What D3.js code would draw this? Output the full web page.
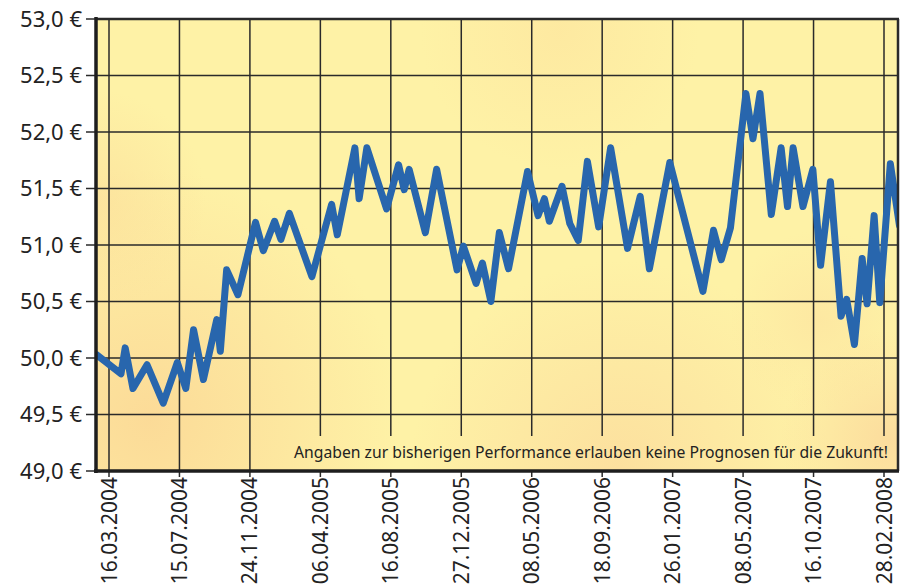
<!DOCTYPE html>
<html>
<head>
<meta charset="utf-8">
<script src="https://cdn.jsdelivr.net/npm/d3@7"></script>
<style>
  body { margin: 0; background: #fff; }
  text { font-family: "Noto Sans", sans-serif; fill: #222; }
</style>
</head>
<body>
<div class="chart"></div>
<script>
var svgWidth = 902;
var svgHeight = 586;

// x tick labels (one per vertical gridline)
var dateLabels = ["16.03.2004", "15.07.2004", "24.11.2004", "06.04.2005", "16.08.2005", "27.12.2005",
    "08.05.2006", "18.09.2006", "26.01.2007", "08.05.2007", "16.10.2007", "28.02.2008"];
var priceTicks = [49.0, 49.5, 50.0, 50.5, 51.0, 51.5, 52.0, 52.5, 53.0];

// position of each point, measured in label intervals (0 = 16.03.2004, 11 = 28.02.2008)
var pos = [-0.18, 0.17, 0.23, 0.34, 0.54, 0.77, 0.97, 1.09, 1.20, 1.34, 1.53, 1.58, 1.67, 1.83,
    2.08, 2.19, 2.35, 2.44, 2.56, 2.88, 3.16, 3.24, 3.49, 3.55, 3.66, 3.94, 4.11, 4.19, 4.26,
    4.49, 4.65, 4.94, 5.03, 5.21, 5.30, 5.42, 5.54, 5.67, 5.94, 6.09, 6.18, 6.25, 6.43, 6.54,
    6.66, 6.79, 6.95, 7.12, 7.36, 7.54, 7.67, 7.96, 8.43, 8.58, 8.69, 8.82, 9.04, 9.14, 9.24,
    9.40, 9.54, 9.63, 9.71, 9.85, 9.99, 10.10, 10.24, 10.39, 10.47, 10.58, 10.69, 10.76,
    10.86, 10.94, 11.09, 11.22];
var price = [50.03, 49.86, 50.09, 49.73, 49.94, 49.60, 49.96, 49.73, 50.25, 49.81, 50.34, 50.06,
    50.78, 50.56, 51.20, 50.95, 51.21, 51.05, 51.28, 50.72, 51.36, 51.09, 51.86, 51.41, 51.86,
    51.32, 51.71, 51.49, 51.67, 51.11, 51.67, 50.78, 50.99, 50.66, 50.84, 50.50, 51.11, 50.79,
    51.65, 51.26, 51.41, 51.21, 51.52, 51.19, 51.04, 51.74, 51.16, 51.86, 50.97, 51.43, 50.79,
    51.73, 50.59, 51.13, 50.87, 51.15, 52.34, 51.94, 52.34, 51.27, 51.86, 51.34, 51.86, 51.34,
    51.67, 50.82, 51.56, 50.37, 50.52, 50.12, 50.88, 50.48, 51.26, 50.49, 51.72, 51.17];

var note = "Angaben zur bisherigen Performance erlauben keine Prognosen für die Zukunft!";

var plot = { left: 96, right: 898, top: 19, bottom: 471 };

var svg = d3.select(".chart")
    .append("svg")
    .attr("width", svgWidth)
    .attr("height", svgHeight);

var xScale = d3.scaleLinear().domain([0, dateLabels.length - 1]).range([109, 884]);
var yScale = d3.scaleLinear().domain([49, 53]).range([plot.bottom, plot.top]);

// background: yellow with soft orange blotches
var defs = svg.append("defs");
var blobs = [
    { id: "b1", cx: 150, cy: 420, r: 250, c: "#fbd594", o: 0.8 },
    { id: "b2", cx: 96, cy: 200, r: 110, c: "#fbda98", o: 0.55 },
    { id: "b3", cx: 620, cy: 470, r: 210, c: "#fbd69a", o: 0.65 },
    { id: "b4", cx: 890, cy: 440, r: 110, c: "#fbd59a", o: 0.75 },
    { id: "b5", cx: 560, cy: 30, r: 140, c: "#fde29c", o: 0.55 },
    { id: "b6", cx: 820, cy: 320, r: 90, c: "#fcdc9c", o: 0.45 }
];
blobs.forEach(function(b) {
    var g = defs.append("radialGradient").attr("id", b.id)
        .attr("gradientUnits", "userSpaceOnUse")
        .attr("cx", b.cx).attr("cy", b.cy).attr("r", b.r);
    g.append("stop").attr("offset", "0%").attr("stop-color", b.c).attr("stop-opacity", b.o);
    g.append("stop").attr("offset", "100%").attr("stop-color", b.c).attr("stop-opacity", 0);
});
defs.append("clipPath").attr("id", "plotclip").append("rect")
    .attr("x", plot.left).attr("y", plot.top)
    .attr("width", plot.right - plot.left).attr("height", plot.bottom - plot.top);

function paintBackground(sel, x, y, w, h) {
    sel.append("rect").attr("x", x).attr("y", y).attr("width", w).attr("height", h)
        .attr("fill", "#fef2a6");
    blobs.forEach(function(b) {
        sel.append("rect").attr("x", x).attr("y", y).attr("width", w).attr("height", h)
            .attr("fill", "url(#" + b.id + ")");
    });
}

var bg = svg.append("g");
paintBackground(bg, plot.left, plot.top, plot.right - plot.left, plot.bottom - plot.top);

// gridlines
var grid = svg.append("g").attr("stroke", "#2a2a2a").attr("stroke-width", 1.5);
grid.selectAll(".hgrid")
    .data(priceTicks)
    .enter().append("line")
    .attr("x1", plot.left - 10).attr("x2", plot.right)
    .attr("y1", function(d) { return yScale(d); })
    .attr("y2", function(d) { return yScale(d); });
grid.selectAll(".vgrid")
    .data(dateLabels)
    .enter().append("line")
    .attr("x1", function(d, i) { return xScale(i); })
    .attr("x2", function(d, i) { return xScale(i); })
    .attr("y1", plot.top).attr("y2", plot.bottom + 6);

// strip for the disclaimer covers the gridlines
var strip = svg.append("g");
paintBackground(strip, 290, 436, plot.right - 290, plot.bottom - 436);

svg.append("text")
    .attr("x", 888)
    .attr("y", 458)
    .attr("text-anchor", "end")
    .style("font-size", "15.5px")
    .attr("textLength", 594)
    .attr("lengthAdjust", "spacingAndGlyphs")
    .text(note);

// price line
var line = d3.line()
    .x(function(d, i) { return xScale(pos[i]); })
    .y(function(d) { return yScale(d); });

svg.append("path")
    .datum(price)
    .attr("clip-path", "url(#plotclip)")
    .attr("d", line)
    .attr("fill", "none")
    .attr("stroke", "#2866ad")
    .attr("stroke-width", 7)
    .attr("stroke-linejoin", "round")
    .attr("stroke-linecap", "round");

// frame
svg.append("line").attr("x1", plot.left).attr("x2", plot.right + 1)
    .attr("y1", plot.top).attr("y2", plot.top)
    .attr("stroke", "#2a2a2a").attr("stroke-width", 2.5);
svg.append("line").attr("x1", plot.right).attr("x2", plot.right)
    .attr("y1", plot.top).attr("y2", plot.bottom)
    .attr("stroke", "#2a2a2a").attr("stroke-width", 2.5);
svg.append("line").attr("x1", plot.left).attr("x2", plot.left)
    .attr("y1", plot.top - 2).attr("y2", plot.bottom + 2)
    .attr("stroke", "#1e1e1e").attr("stroke-width", 3.5);
svg.append("line").attr("x1", plot.left - 2).attr("x2", plot.right + 1)
    .attr("y1", plot.bottom).attr("y2", plot.bottom)
    .attr("stroke", "#1e1e1e").attr("stroke-width", 3.5);

// y labels
var fmt = d3.format(".1f");
svg.selectAll(".ylabel")
    .data(priceTicks)
    .enter().append("text")
    .attr("x", 82)
    .attr("y", function(d) { return yScale(d); })
    .attr("dy", "0.35em")
    .attr("text-anchor", "end")
    .style("font-size", "22px")
    .text(function(d) { return fmt(d).replace(".", ",") + " €"; });

// x labels, rotated
svg.selectAll(".xlabel")
    .data(dateLabels)
    .enter().append("text")
    .attr("transform", function(d, i) { return "translate(" + xScale(i) + "," + 477 + ") rotate(-90)"; })
    .attr("dy", "0.36em")
    .attr("text-anchor", "end")
    .style("font-size", "21px")
    .text(function(d) { return d; });
</script>
</body>
</html>
